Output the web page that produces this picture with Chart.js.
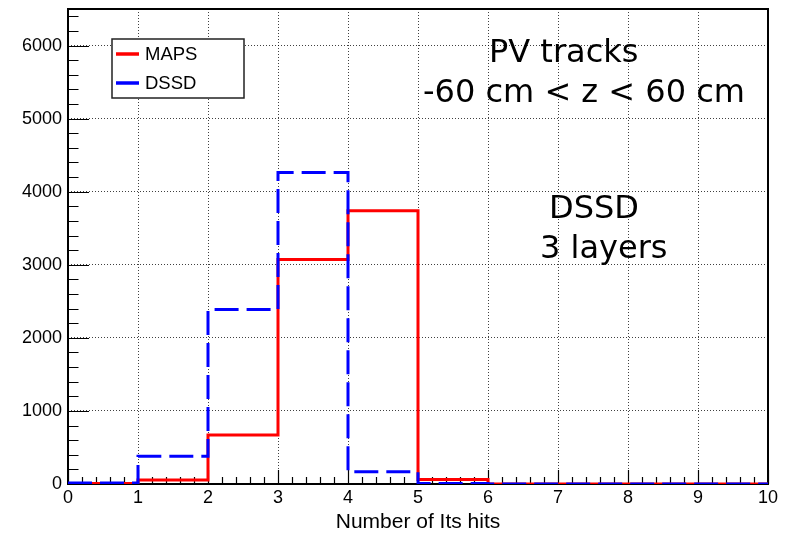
<!DOCTYPE html>
<html>
<head>
<meta charset="utf-8">
<script src="https://cdn.jsdelivr.net/npm/chart.js@4/dist/chart.umd.min.js"></script>
<style>
  html, body { margin: 0; padding: 0; background: #ffffff; }
  #wrap { width: 790px; height: 538px; }
</style>
</head>
<body>
<div id="wrap"><canvas id="hist" width="790" height="538"></canvas></div>
<script>
// Bin edges of the "Number of Its hits" histogram (10 unit-wide bins)
const binEdges = [0, 1, 2, 3, 4, 5, 6, 7, 8, 9, 10];

// Entries per bin for each detector option
const mapsCounts = [8, 55, 672, 3072, 3738, 62, 0, 0, 0, 0];
const dssdCounts = [15, 380, 2388, 4262, 166, 6, 0, 0, 0, 0];

// Axis tick values
const xTickValues = [0, 1, 2, 3, 4, 5, 6, 7, 8, 9, 10];
const yTickValues = [0, 1000, 2000, 3000, 4000, 5000, 6000];

// Text labels
const seriesNames = ['MAPS', 'DSSD'];
const xAxisTitle = 'Number of Its hits';
const infoLines = ['PV tracks', '-60 cm < z < 60 cm'];
const setupLines = ['DSSD', '3 layers'];

// Turn bin contents into step-outline points (left edge of each bin + closing right edge)
function stepPoints(counts) {
  const pts = counts.map((c, i) => ({ x: binEdges[i], y: c }));
  pts.push({ x: binEdges[binEdges.length - 1], y: counts[counts.length - 1] });
  return pts;
}

const SANS = '"Liberation Sans", Arial, Helvetica, sans-serif';
const DEJAVU = '"DejaVu Sans", sans-serif';

// Frame, inward tick marks, legend box and text annotations
const decorations = {
  id: 'decorations',
  beforeDatasetsDraw(chart) {
    const { ctx, chartArea: a, scales: { x, y } } = chart;
    ctx.save();
    // inward tick marks on the bottom and left axes
    ctx.strokeStyle = '#000';
    ctx.lineWidth = 1.2;
    ctx.beginPath();
    for (let v = 0; v <= 10.0001; v += 0.2) {
      const px = Math.round(x.getPixelForValue(v)) + 0.5;
      const major = Math.abs(v - Math.round(v)) < 1e-6;
      ctx.moveTo(px, a.bottom);
      ctx.lineTo(px, a.bottom - (major ? 14 : 7));
    }
    for (let v = 0; v <= 6400; v += 200) {
      const py = Math.round(y.getPixelForValue(v)) + 0.5;
      const major = v % 1000 === 0;
      ctx.moveTo(a.left, py);
      ctx.lineTo(a.left + (major ? 21 : 10.5), py);
    }
    ctx.stroke();
    // frame
    ctx.lineWidth = 2;
    ctx.strokeRect(a.left, a.top, a.right - a.left, a.bottom - a.top);
    ctx.restore();
  },
  afterDraw(chart) {
    const { ctx } = chart;
    ctx.save();
    // legend box
    ctx.fillStyle = '#ffffff';
    ctx.fillRect(112, 39, 132, 59);
    ctx.strokeStyle = '#222';
    ctx.lineWidth = 1.5;
    ctx.strokeRect(112, 39, 132, 59);
    const rowsY = [54, 83];
    chart.data.datasets.forEach((ds, i) => {
      ctx.strokeStyle = ds.borderColor;
      ctx.lineWidth = 3.5;
      ctx.setLineDash([]);
      ctx.beginPath();
      ctx.moveTo(116, rowsY[i]);
      ctx.lineTo(139, rowsY[i]);
      ctx.stroke();
      ctx.fillStyle = '#000';
      ctx.font = '18.5px ' + SANS;
      ctx.textBaseline = 'middle';
      ctx.textAlign = 'left';
      ctx.fillText(ds.label, 145, rowsY[i] + 1);
    });
    // annotations
    ctx.fillStyle = '#000';
    ctx.font = '32px ' + DEJAVU;
    ctx.textBaseline = 'alphabetic';
    ctx.textAlign = 'left';
    ctx.fillText(infoLines[0], 489, 62);
    ctx.fillText(infoLines[1], 423, 102);
    ctx.fillText(setupLines[0], 549, 218);
    ctx.fillText(setupLines[1], 540, 258);
    ctx.restore();
  }
};

new Chart(document.getElementById('hist'), {
  type: 'line',
  data: {
    datasets: [
      {
        label: seriesNames[0],
        data: stepPoints(mapsCounts),
        borderColor: '#ff0000',
        borderWidth: 3,
        stepped: 'before',
        pointRadius: 0,
        fill: false,
        order: 2
      },
      {
        label: seriesNames[1],
        data: stepPoints(dssdCounts),
        borderColor: '#0000ff',
        borderWidth: 3,
        borderDash: [24, 8],
        borderCapStyle: 'butt',
        stepped: 'before',
        pointRadius: 0,
        fill: false,
        order: 1
      }
    ]
  },
  options: {
    responsive: false,
    animation: false,
    devicePixelRatio: 1,
    layout: { padding: { top: 9, right: 22, left: 0, bottom: 0 } },
    plugins: {
      legend: { display: false },
      tooltip: { enabled: false }
    },
    scales: {
      x: {
        type: 'linear',
        min: 0,
        max: 10,
        afterBuildTicks(scale) { scale.ticks = xTickValues.map(v => ({ value: v })); },
        afterFit(scale) { scale.height = 54; scale.paddingLeft = 0; scale.paddingRight = 0; },
        ticks: {
          color: '#000',
          font: { family: SANS, size: 18 },
          padding: 3,
          maxRotation: 0,
          autoSkip: false,
          callback: v => String(v)
        },
        grid: { color: 'rgba(0,0,0,0.75)', lineWidth: 1, drawTicks: false },
        border: { display: false, dash: [1, 2] },
        title: {
          display: true,
          text: xAxisTitle,
          color: '#000',
          font: { family: SANS, size: 21 },
          padding: { top: 0, bottom: 3 }
        }
      },
      y: {
        type: 'linear',
        min: 0,
        max: 6500,
        afterBuildTicks(scale) { scale.ticks = yTickValues.map(v => ({ value: v })); },
        afterFit(scale) { scale.width = 68; scale.paddingTop = 0; scale.paddingBottom = 0; },
        ticks: {
          color: '#000',
          font: { family: SANS, size: 18 },
          padding: 6,
          callback: v => String(v)
        },
        grid: { color: 'rgba(0,0,0,0.75)', lineWidth: 1, drawTicks: false },
        border: { display: false, dash: [1, 2] }
      }
    }
  },
  plugins: [decorations]
});
</script>
</body>
</html>
